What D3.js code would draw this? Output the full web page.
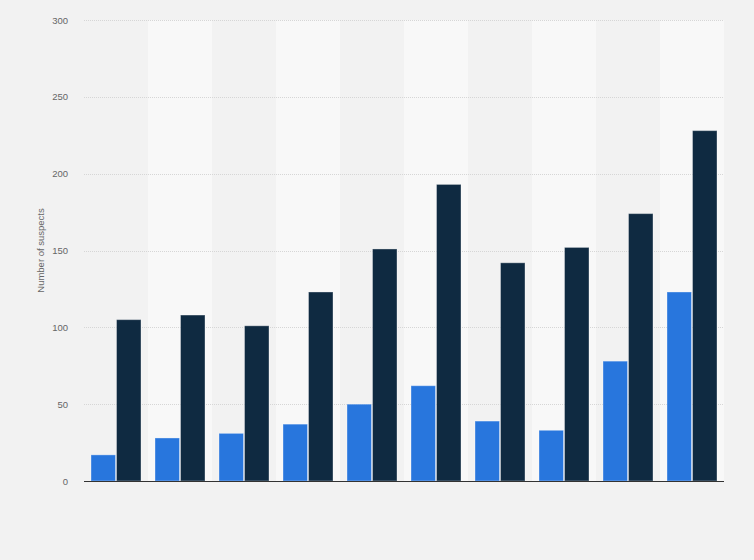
<!DOCTYPE html>
<html>
<head>
<meta charset="utf-8">
<script src="https://cdn.jsdelivr.net/npm/d3@7"></script>
<style>
html,body{margin:0;padding:0;background:#f2f2f2;}
svg{display:block;}
</style>
</head>
<body>
<svg id="chart" width="754" height="560"></svg>
<script>
const categories = ["1","2","3","4","5","6","7","8","9","10"];
const seriesNames = ["Series A","Series B"];
const seriesA = [17, 28, 31, 37, 50, 62, 39, 33, 78, 123];
const seriesB = [105, 108, 101, 123, 151, 193, 142, 152, 174, 228];
const yTicks = [0, 50, 100, 150, 200, 250, 300];
const colors = ["#2876dd", "#0f2a41"];
const yTitle = "Number of suspects";

const svg = d3.select("#chart");
const W = 754, H = 560;
const m = {left: 84, right: 30, top: 20, bottom: 79};
const iw = W - m.left - m.right, ih = H - m.top - m.bottom;

svg.append("rect").attr("width", W).attr("height", H).attr("fill", "#f2f2f2");

const g = svg.append("g").attr("transform", `translate(${m.left},${m.top})`);

const x0 = d3.scaleBand().domain(categories).range([0, iw]).padding(0);
const x1 = d3.scaleBand().domain(seriesNames).range([7, x0.bandwidth() - 7]).paddingInner(0.04);
const y = d3.scaleLinear().domain([0, 300]).range([ih, 0]);

// alternating bands
g.selectAll("rect.band").data(categories.filter((d, i) => i % 2 === 1)).join("rect")
  .attr("class", "band")
  .attr("x", d => x0(d)).attr("y", 0)
  .attr("width", x0.bandwidth()).attr("height", ih)
  .attr("fill", "#f8f8f8");

// grid
g.selectAll("line.grid").data(yTicks.filter(t => t > 0)).join("line")
  .attr("class", "grid")
  .attr("x1", 0).attr("x2", iw)
  .attr("y1", d => Math.round(y(d)) + 0.5).attr("y2", d => Math.round(y(d)) + 0.5)
  .attr("stroke", "#d6d6d6").attr("stroke-width", 1).attr("stroke-dasharray", "1,1");

// y axis labels
const yAxis = d3.axisLeft(y).tickValues(yTicks).tickSize(0).tickPadding(16);
const ya = g.append("g").call(yAxis);
ya.select(".domain").remove();
ya.selectAll("text").attr("fill", "#666").style("font-family", "Arial, 'Liberation Sans', sans-serif").style("font-size", "9.5px");

// bars
const data = categories.map((c, i) => ({c, vals: [seriesA[i], seriesB[i]]}));
const grp = g.selectAll("g.grp").data(data).join("g")
  .attr("class", "grp").attr("transform", d => `translate(${x0(d.c)},0)`);
grp.selectAll("rect").data(d => d.vals.map((v, j) => ({v, s: seriesNames[j], j}))).join("rect")
  .attr("x", d => x1(d.s)).attr("width", x1.bandwidth())
  .attr("y", d => y(d.v)).attr("height", d => ih - y(d.v))
  .attr("fill", d => colors[d.j])
  .attr("stroke", "rgba(255,255,255,0.35)").attr("stroke-width", 1);

// baseline
g.append("line").attr("x1", 0).attr("x2", iw)
  .attr("y1", ih + 0.5).attr("y2", ih + 0.5)
  .attr("stroke", "#333").attr("stroke-width", 1.2);

// y title
svg.append("text")
  .attr("transform", `translate(44,${m.top + ih / 2}) rotate(-90)`)
  .attr("text-anchor", "middle")
  .attr("fill", "#666")
  .style("font-family", "Arial, 'Liberation Sans', sans-serif")
  .style("font-size", "9.5px")
  .text(yTitle);
</script>
</body>
</html>
